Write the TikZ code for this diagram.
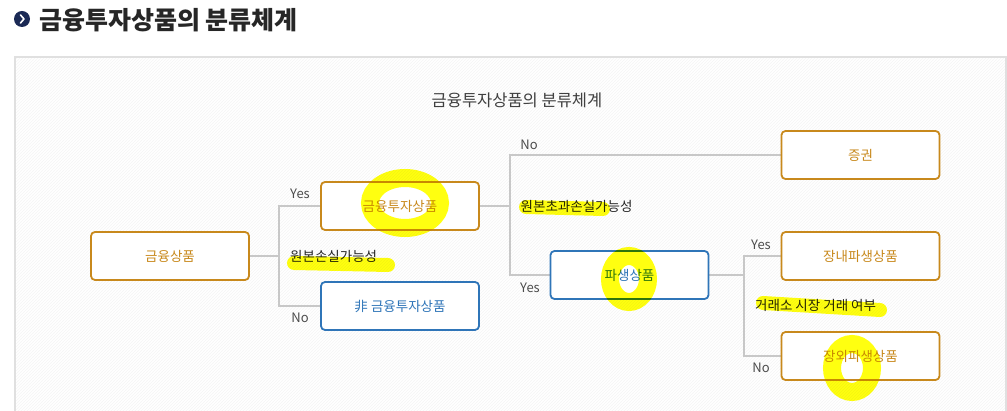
\documentclass[tikz,border=0pt]{standalone}
\usepackage{fontspec}
\setmainfont{Noto Sans CJK KR}
\usetikzlibrary{patterns}
\definecolor{gold}{HTML}{C8891C}
\definecolor{bluec}{HTML}{2F75B8}
\definecolor{linec}{HTML}{C8C8C8}
\definecolor{navy}{HTML}{1B2A55}
\definecolor{hl}{HTML}{FFFF10}
\tikzset{
  gbox/.style={draw=gold, line width=1.8pt, rounded corners=4pt, fill=white, minimum width=158pt, minimum height=48pt, text=gold, font=\fontsize{13.5}{15}\selectfont, inner sep=0pt},
  bbox/.style={gbox, draw=bluec, text=bluec},
  conn/.style={draw=linec, line width=1.8pt},
  lab/.style={text=black!85, font=\fontsize{13.5}{15}\selectfont, inner sep=0pt, anchor=west},
  yn/.style={text=black!70, font=\fontsize{13}{14}\selectfont, inner sep=0pt},
  hlstroke/.style={draw=hl, line width=14pt, line cap=round, line join=round, blend mode=multiply},
  hlblob/.style={draw=hl, line width=18pt, blend mode=multiply}
}
\begin{document}
\begin{tikzpicture}[x=1pt,y=-1pt]
\useasboundingbox (0,0) rectangle (1007,411);
% panel
\fill[white] (0,0) rectangle (1007,411);
\path[fill=white, pattern=north east lines, pattern color=black!4] (15,57) rectangle (1006,420);
\draw[black!12, line width=1.5pt] (15,420) -- (15,57) -- (1006,57) -- (1006,420);
% title
\fill[navy] (22,19) circle (8);
\draw[white, line width=1.6pt, line cap=round, line join=round] (20.5,15) -- (24,19) -- (20.5,23);
\node[anchor=west, inner sep=0pt, text=black!85, font=\fontsize{25}{28}\bfseries\selectfont] (title) at (39,20) {금융투자상품의 분류체계};
\node[inner sep=0pt, text=black!75, font=\fontsize{16.5}{18}\selectfont] (sub) at (517,100) {금융투자상품의 분류체계};
% connectors
\coordinate (j1) at (279,256);
\coordinate (j2) at (510,206);
\coordinate (j3) at (744,275);
\coordinate (finE) at (249,256);
\coordinate (invW) at (321,206);
\coordinate (nonW) at (321,306);
\coordinate (invE) at (479,206);
\coordinate (secW) at (781,155);
\coordinate (derW) at (550,275);
\coordinate (derE) at (709,275);
\coordinate (exW) at (781,256);
\coordinate (otcW) at (781,356);
\draw[conn] (finE) -- (j1);
\draw[conn] (invW) -| (j1) |- (nonW);
\draw[conn] (invE) -- (j2);
\draw[conn] (secW) -| (j2) |- (derW);
\draw[conn] (derE) -- (j3);
\draw[conn] (exW) -| (j3) |- (otcW);
% boxes
\node[gbox] (fin) at (170,256) {금융상품};
\node[gbox] (inv) at (400,206) {금융투자상품};
\node[bbox] (noninv) at (400,306) {非 금융투자상품};
\node[bbox] (der) at (629.5,275) {파생상품};
\node[gbox] (sec) at (860.5,155) {증권};
\node[gbox] (ex) at (860.5,256) {장내파생상품};
\node[gbox] (otc) at (860.5,356) {장외파생상품};
% labels
\node[yn] (y1) at (300,194) {Yes};
\node[yn] (n1) at (300,318) {No};
\node[lab] (q1) at (290,256) {원본손실가능성};
\node[yn] (n2) at (529,145) {No};
\node[yn] (y2) at (530,288) {Yes};
\node[lab] (q2) at (520.5,206) {원본초과손실가능성};
\node[yn] (y3) at (761,245) {Yes};
\node[yn] (n3) at (761,368) {No};
\node[lab] (q3) at (755,305) {거래소 시장 거래 여부};
% highlighter marks
\draw[hlblob] (405,203) ellipse (35 and 25);
\draw[hlstroke] (294,263) -- (388,265);
\draw[hlstroke] (526,207) -- (603,209);
\draw[hlblob] (629,279) ellipse (19 and 23);
\draw[hlstroke] (763,303) -- (880,310);
\draw[hlblob] (852,368) ellipse (20 and 24);
\end{tikzpicture}
\end{document}
